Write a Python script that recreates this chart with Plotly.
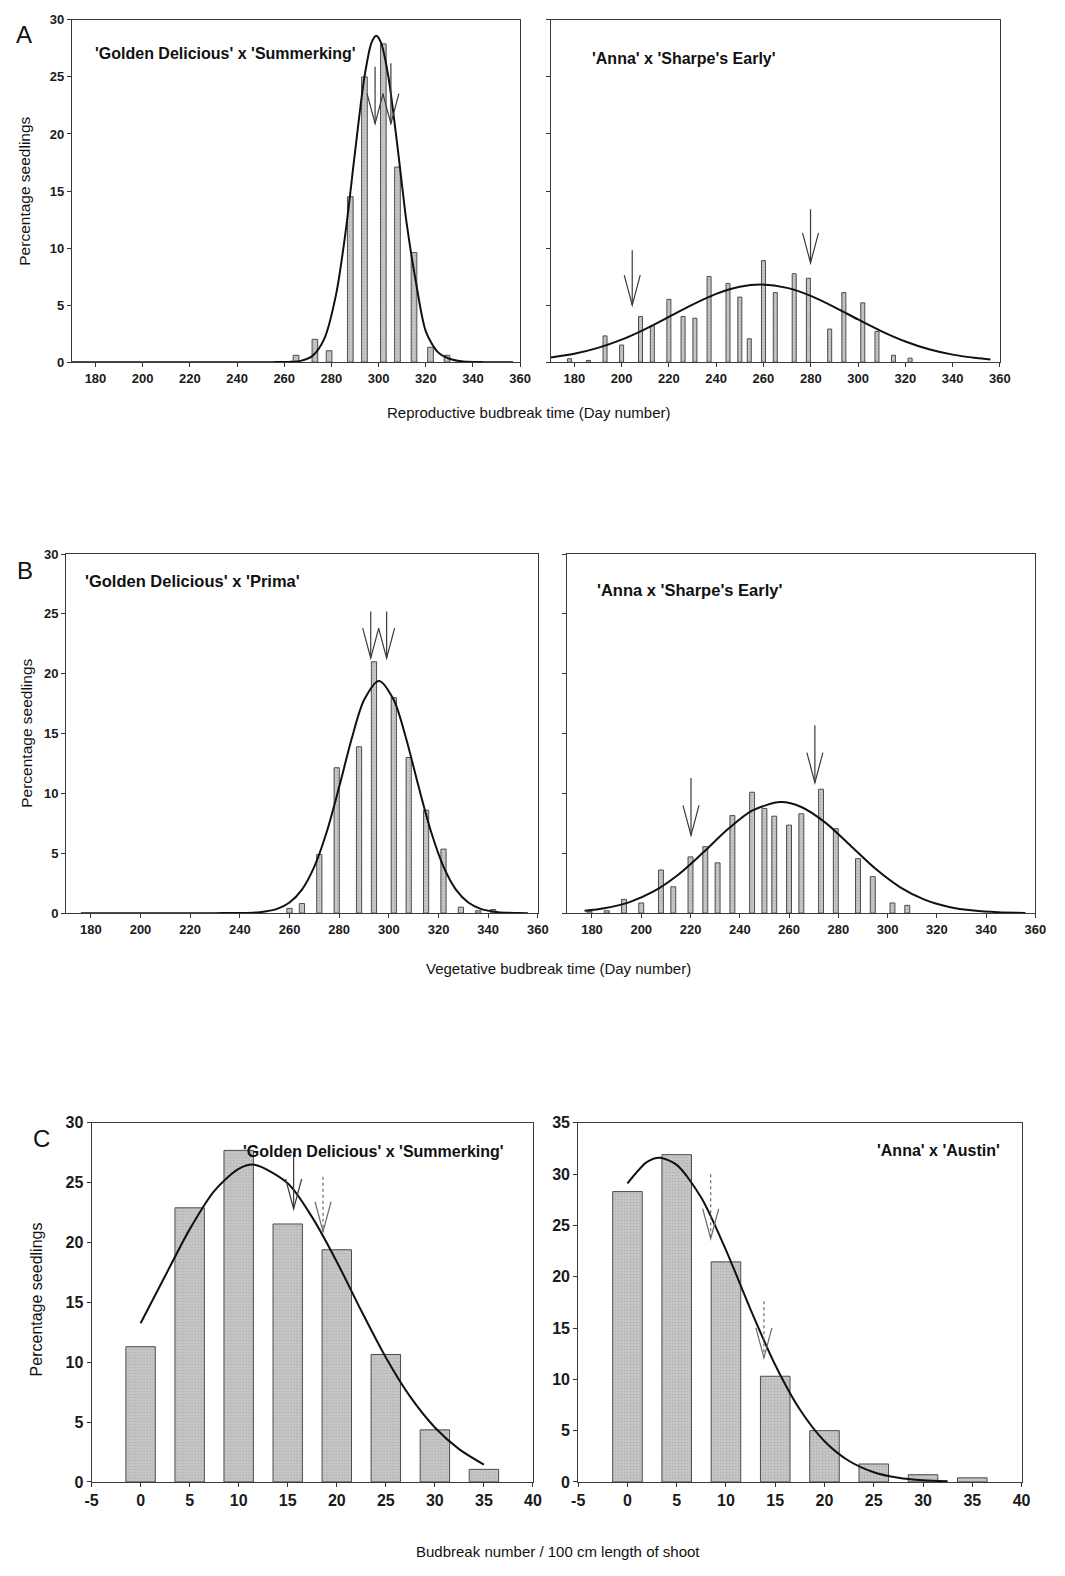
import plotly.graph_objects as go

W, H = 1065, 1576
FONT = "Liberation Sans, Arial, sans-serif"

# ---------------- data ----------------
# A: reproductive budbreak (day number)
repro_gs_days = [265, 273, 279, 288, 294, 302, 308, 315, 322, 329]
repro_gs_pct = [0.6, 2.0, 1.0, 14.5, 25.0, 27.9, 17.1, 9.6, 1.3, 0.6]
repro_gs_fit_x = [170, 240, 255, 262, 267, 272, 277, 282, 286, 290, 294, 297, 299,
                  301, 304, 308, 312, 316, 320, 325, 330, 336, 345, 357]
repro_gs_fit_y = [0, 0, 0, 0.02, 0.11, 0.55, 2.06, 5.96, 11.4, 18.4, 25.0, 28.0, 28.6,
                  28.0, 25.2, 18.9, 12.0, 6.8, 2.7, 0.9, 0.3, 0.05, 0, 0]
repro_gs_arrow_x = [298.5, 305.2]
repro_gs_arrow_top = [25.9, 26.2]
repro_gs_arrow_tip = [20.9, 20.9]

repro_as_days = [178, 186, 193, 200, 208, 213, 220, 226, 231, 237, 245, 250,
                 254, 260, 265, 273, 279, 288, 294, 302, 308, 315, 322]
repro_as_pct = [0.3, 0.15, 2.3, 1.5, 4.0, 3.2, 5.5, 4.0, 3.85, 7.5, 6.9, 5.7,
                2.05, 8.9, 6.1, 7.75, 7.35, 2.9, 6.1, 5.2, 2.7, 0.6, 0.35]
repro_as_fit_x = [170, 180, 190, 200, 210, 220, 230, 240, 250, 259, 270, 280,
                  290, 300, 310, 320, 330, 340, 350, 356]
repro_as_fit_y = [0.41, 0.74, 1.25, 1.97, 2.9, 3.96, 5.04, 5.98, 6.6, 6.8, 6.51, 5.81,
                  4.83, 3.74, 2.70, 1.81, 1.13, 0.66, 0.36, 0.24]
repro_as_arrow_x = [204.5, 279.9]
repro_as_arrow_top = [9.8, 13.4]
repro_as_arrow_tip = [5.0, 8.7]

# B: vegetative budbreak (day number)
veg_gp_days = [260, 265, 272, 279, 288, 294, 302, 308, 315, 322, 329, 336, 342]
veg_gp_pct = [0.4, 0.8, 4.9, 12.15, 13.9, 21.0, 18.0, 13.0, 8.6, 5.35, 0.5, 0.2, 0.3]
veg_gp_fit_x = [176, 230, 240, 248, 255, 260, 265, 270, 275, 280, 285, 290, 296,
                302, 307, 312, 317, 322, 327, 332, 337, 344, 352, 356]
veg_gp_fit_y = [0, 0, 0.01, 0.08, 0.36, 0.89, 1.97, 3.89, 6.8, 10.55, 14.55, 17.8, 19.4,
                17.8, 14.55, 10.55, 6.8, 3.89, 1.97, 0.89, 0.36, 0.08, 0.01, 0]
veg_gp_arrow_x = [292.7, 299.1]
veg_gp_arrow_top = [25.2, 25.2]
veg_gp_arrow_tip = [21.3, 21.3]

veg_as_days = [179, 186, 193, 200, 208, 213, 220, 226, 231, 237, 245, 250, 254,
               260, 265, 273, 279, 288, 294, 302, 308]
veg_as_pct = [0.15, 0.2, 1.15, 0.85, 3.6, 2.2, 4.7, 5.55, 4.2, 8.15, 10.1, 8.75, 8.1,
              7.35, 8.3, 10.35, 7.05, 4.55, 3.05, 0.85, 0.65]
veg_as_fit_x = [177, 185, 195, 205, 215, 225, 235, 245, 256.5, 265, 275, 285,
                295, 305, 315, 325, 335, 345, 356]
veg_as_fit_y = [0.19, 0.40, 0.90, 1.81, 3.21, 5.04, 6.98, 8.56, 9.28, 8.87, 7.52, 5.63,
                3.72, 2.18, 1.13, 0.52, 0.21, 0.07, 0.02]
veg_as_arrow_x = [220.2, 270.5]
veg_as_arrow_top = [11.3, 15.7]
veg_as_arrow_tip = [6.5, 10.9]

# C: budbreak number per 100 cm shoot
bud_classes = [0, 5, 10, 15, 20, 25, 30, 35]
bud_gs_pct = [11.3, 22.9, 27.7, 21.55, 19.4, 10.65, 4.35, 1.05]
bud_gs_fit_x = [0, 2.5, 5, 7.5, 10, 11.6, 15, 17.5, 20, 22.5, 25, 27.5, 30, 32.5, 35]
bud_gs_fit_y = [13.25, 17.2, 21.1, 24.3, 26.15, 26.5, 24.95, 22.1, 18.4, 14.3, 10.4,
                7.1, 4.55, 2.72, 1.45]
bud_gs_arrow_x = [15.6, 18.6]
bud_gs_arrow_top = [27.6, 25.5]
bud_gs_arrow_tip = [22.8, 20.9]

bud_aa_pct = [28.3, 31.9, 21.45, 10.3, 5.0, 1.75, 0.7, 0.4]
bud_aa_fit_x = [0, 2, 3.3, 5, 7.5, 10, 12.5, 15, 17.5, 20, 22.5, 25, 27.5, 30, 32.5]
bud_aa_fit_y = [29.1, 31.2, 31.6, 30.9, 27.7, 22.6, 16.8, 11.4, 7.06, 3.97, 2.04,
                0.95, 0.41, 0.16, 0.06]
bud_aa_arrow_x = [8.45, 13.85]
bud_aa_arrow_top = [30.0, 17.6]
bud_aa_arrow_tip = [23.7, 12.1]

day_ticks = list(range(180, 361, 20))
bud_ticks = list(range(-5, 41, 5))
pct30_ticks = list(range(0, 31, 5))
pct35_ticks = list(range(0, 36, 5))

# ---------------- panel layout (pixel boxes: left, right, top, bottom) ----------------
panels = [
    dict(box=(66, 522, 12, 358), xr=[170, 360], yr=[0, 30], xt=day_ticks, yt=pct30_ticks,
         ylab=True, tick_font=13, bars=(repro_gs_days, repro_gs_pct, 2.4),
         fit=(repro_gs_fit_x, repro_gs_fit_y),
         arrows=(repro_gs_arrow_x, repro_gs_arrow_top, repro_gs_arrow_tip, ["solid", "solid"])),
    dict(box=(553, 1010, 12, 358), xr=[170, 360], yr=[0, 30], xt=day_ticks, yt=pct30_ticks,
         ylab=False, tick_font=13, bars=(repro_as_days, repro_as_pct, 1.7),
         fit=(repro_as_fit_x, repro_as_fit_y),
         arrows=(repro_as_arrow_x, repro_as_arrow_top, repro_as_arrow_tip, ["solid", "solid"])),
    dict(box=(60, 540, 552, 915), xr=[170, 360], yr=[0, 30], xt=day_ticks, yt=pct30_ticks,
         ylab=True, tick_font=13, bars=(veg_gp_days, veg_gp_pct, 2.1),
         fit=(veg_gp_fit_x, veg_gp_fit_y),
         arrows=(veg_gp_arrow_x, veg_gp_arrow_top, veg_gp_arrow_tip, ["solid", "solid"])),
    dict(box=(570, 1046, 552, 915), xr=[170, 360], yr=[0, 30], xt=day_ticks, yt=pct30_ticks,
         ylab=False, tick_font=13, bars=(veg_as_days, veg_as_pct, 2.0),
         fit=(veg_as_fit_x, veg_as_fit_y),
         arrows=(veg_as_arrow_x, veg_as_arrow_top, veg_as_arrow_tip, ["solid", "solid"])),
    dict(box=(86, 535, 1127, 1490), xr=[-5, 40], yr=[0, 30], xt=bud_ticks, yt=pct30_ticks,
         ylab=True, tick_font=16, bars=(bud_classes, bud_gs_pct, 3.0),
         fit=(bud_gs_fit_x, bud_gs_fit_y),
         arrows=(bud_gs_arrow_x, bud_gs_arrow_top, bud_gs_arrow_tip, ["solid", "dot"])),
    dict(box=(581, 1032, 1127, 1490), xr=[-5, 40], yr=[0, 35], xt=bud_ticks, yt=pct35_ticks,
         ylab=True, tick_font=16, bars=(bud_classes, bud_aa_pct, 3.0),
         fit=(bud_aa_fit_x, bud_aa_fit_y),
         arrows=(bud_aa_arrow_x, bud_aa_arrow_top, bud_aa_arrow_tip, ["dot", "dot"])),
]


def px(xp):
    return xp / W


def py(yp):
    return 1 - yp / H


fig = go.Figure()
layout = dict(
    width=W, height=H, margin=dict(l=0, r=0, t=0, b=0),
    paper_bgcolor="white", plot_bgcolor="white", showlegend=False,
    font=dict(family=FONT, color="#1a1a1a"),
)
shapes = []

for i, p in enumerate(panels, start=1):
    left, right, top, bottom = p["box"]
    xa, ya = f"xaxis{i}", f"yaxis{i}"
    xref, yref = f"x{i}", f"y{i}"
    tfont = dict(size=p["tick_font"], family=FONT, color="#1a1a1a", weight="bold")
    layout[xa] = dict(
        domain=[px(left), px(right)], range=p["xr"], anchor=yref,
        tickmode="array", tickvals=p["xt"], ticktext=[str(v) for v in p["xt"]],
        ticks="outside", ticklen=4, tickcolor="#333",
        showline=True, mirror=True, linecolor="#3a3a3a", linewidth=1,
        showgrid=False, zeroline=False, fixedrange=True, tickfont=tfont,
    )
    layout[ya] = dict(
        domain=[py(bottom), py(top)], range=p["yr"], anchor=xref,
        tickmode="array", tickvals=p["yt"], ticktext=[str(v) for v in p["yt"]],
        ticks="outside", ticklen=4, tickcolor="#333",
        showticklabels=p["ylab"],
        showline=True, mirror=True, linecolor="#3a3a3a", linewidth=1,
        showgrid=False, zeroline=False, fixedrange=True, tickfont=tfont,
    )

    bx, by, bw = p["bars"]
    fig.add_trace(go.Bar(
        x=bx, y=by, width=bw, xaxis=xref, yaxis=yref,
        marker=dict(color="#bdbdbd", line=dict(color="#4d4d4d", width=1),
                    pattern=dict(shape=".", size=3, solidity=0.25,
                                 fgcolor="#8a8a8a", bgcolor="#c8c8c8")),
    ))

    fx, fy = p["fit"]
    fig.add_trace(go.Scatter(
        x=fx, y=fy, xaxis=xref, yaxis=yref, mode="lines",
        line=dict(color="#111111", width=2, shape="spline", smoothing=0.8),
    ))

    ax_x, ax_top, ax_tip, styles = p["arrows"]
    for x, y0, y1, st in zip(ax_x, ax_top, ax_tip, styles):
        col = "#3a3a3a" if st == "solid" else "#6a6a6a"
        shapes.append(dict(type="line", xref=xref, yref=yref, x0=x, x1=x, y0=y0, y1=y1,
                           line=dict(color=col, width=1.2, dash=st)))
        shapes.append(dict(type="path", xref=xref, yref=yref,
                           xsizemode="pixel", ysizemode="pixel",
                           xanchor=x, yanchor=y1,
                           path="M -8,30 L 0,0 L 8,30",
                           line=dict(color=col, width=1.2)))

layout["shapes"] = shapes

annotations = []


def text(x, y, s, size, bold=False, angle=0, xanchor="center"):
    annotations.append(dict(
        x=px(x), y=py(y), xref="paper", yref="paper", text=s, showarrow=False,
        xanchor=xanchor, yanchor="middle", textangle=angle,
        font=dict(family=FONT, size=size, color="#111111",
                  weight="bold" if bold else "normal"),
    ))


# panel letters
text(17, 27, "A", 24)
text(18, 569, "B", 24)
text(35, 1143, "C", 24)

# cross labels
text(87, 46, "'Golden Delicious' x 'Summerking'", 16, bold=True, xanchor="left")
text(593, 51, "'Anna' x 'Sharpe's Early'", 16, bold=True, xanchor="left")
text(77, 579, "'Golden Delicious' x 'Prima'", 16.5, bold=True, xanchor="left")
text(598, 588, "'Anna x 'Sharpe's Early'", 16.5, bold=True, xanchor="left")
text(238, 1156, "'Golden Delicious' x 'Summerking'", 16, bold=True, xanchor="left")
text(883, 1155, "'Anna' x 'Austin'", 16, bold=True, xanchor="left")

# axis titles
text(17, 185, "Percentage seedlings", 15.5, angle=-90)
text(19, 733, "Percentage seedlings", 15.5, angle=-90)
text(30, 1305, "Percentage seedlings", 16, angle=-90)
text(530, 409, "Reproductive budbreak time (Day number)", 15)
text(561, 971, "Vegetative budbreak time (Day number)", 15)
text(560, 1560, "Budbreak number / 100 cm length of shoot", 15)

layout["annotations"] = annotations
fig.update_layout(**layout)

fig.write_html("out.html")
